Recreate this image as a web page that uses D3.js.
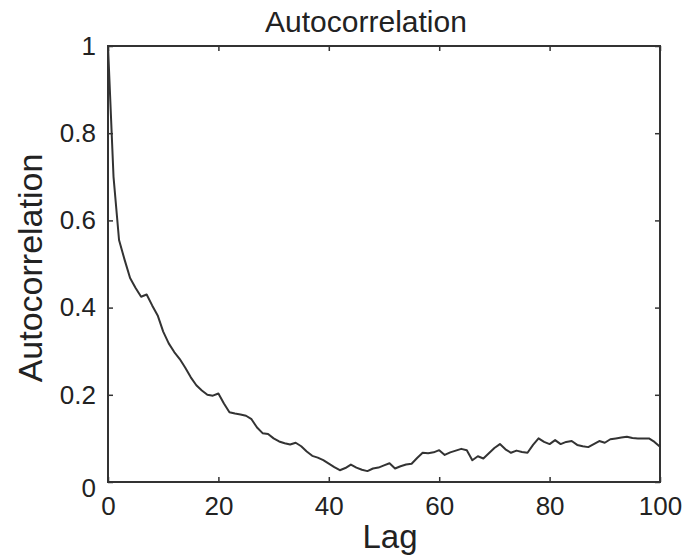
<!DOCTYPE html>
<html>
<head>
<meta charset="utf-8">
<script src="https://cdn.jsdelivr.net/npm/d3@7"></script>
<style>
  html, body { margin: 0; padding: 0; background: #fff; }
  svg { display: block; }
  text { font-family: "Liberation Sans", Arial, Helvetica, sans-serif; fill: #222; }
</style>
</head>
<body>
<svg id="chart" width="693" height="560"></svg>
<script>
// ---- data ----
const lags = d3.range(0, 101);
const autocorr = [
  1.000, 0.700, 0.555, 0.510, 0.468, 0.445, 0.425, 0.430, 0.405, 0.382,
  0.345, 0.318, 0.298, 0.282, 0.262, 0.240, 0.222, 0.210, 0.200, 0.198,
  0.203, 0.180, 0.160, 0.157, 0.155, 0.152, 0.144, 0.125, 0.112, 0.110,
  0.100, 0.093, 0.089, 0.086, 0.090, 0.082, 0.070, 0.060, 0.056, 0.050,
  0.042, 0.034, 0.027, 0.032, 0.040, 0.033, 0.028, 0.025, 0.031, 0.033,
  0.038, 0.043, 0.031, 0.036, 0.040, 0.042, 0.055, 0.067, 0.066, 0.068,
  0.073, 0.062, 0.068, 0.072, 0.076, 0.073, 0.050, 0.059, 0.054, 0.066,
  0.078, 0.087, 0.075, 0.067, 0.072, 0.069, 0.067, 0.085, 0.100, 0.092,
  0.087, 0.096, 0.087, 0.092, 0.094, 0.085, 0.082, 0.080, 0.087, 0.094,
  0.090, 0.098, 0.100, 0.102, 0.104, 0.101, 0.100, 0.100, 0.100, 0.092,
  0.081
];
const xTicks = [0, 20, 40, 60, 80, 100];
const yTicks = [0, 0.2, 0.4, 0.6, 0.8, 1];
const yTickLabels = ["0", "0.2", "0.4", "0.6", "0.8", "1"];
const titleText = "Autocorrelation";
const xLabelText = "Lag";
const yLabelText = "Autocorrelation";

// ---- layout ----
const mLeft = 108, mRight = 660, mTop = 46, mBottom = 482;
const svg = d3.select("#chart");
const x = d3.scaleLinear().domain([0, 100]).range([mLeft, mRight]);
const y = d3.scaleLinear().domain([0, 1]).range([mBottom, mTop]);
const axisColor = "#333";
const tickLen = 5;

// box
svg.append("rect")
  .attr("x", mLeft).attr("y", mTop)
  .attr("width", mRight - mLeft).attr("height", mBottom - mTop)
  .attr("fill", "none").attr("stroke", axisColor).attr("stroke-width", 2);

function styleAxis(g) {
  g.select(".domain").remove();
  g.selectAll(".tick line").attr("stroke", axisColor).attr("stroke-width", 1.5);
}

// bottom axis (inward ticks)
const gx = svg.append("g").attr("transform", `translate(0,${mBottom})`)
  .call(d3.axisBottom(x).tickValues(xTicks).tickSizeInner(-tickLen).tickSizeOuter(0).tickPadding(15).tickFormat(d3.format("d")));
styleAxis(gx);
gx.selectAll(".tick text").attr("font-size", 26).attr("fill", "#222");

// top axis ticks (no labels)
const gxt = svg.append("g").attr("transform", `translate(0,${mTop})`)
  .call(d3.axisTop(x).tickValues(xTicks).tickSizeInner(-tickLen).tickSizeOuter(0).tickFormat(""));
styleAxis(gxt);

// left axis
const gy = svg.append("g").attr("transform", `translate(${mLeft},0)`)
  .call(d3.axisLeft(y).tickValues(yTicks).tickSizeInner(-tickLen).tickSizeOuter(0).tickPadding(12)
    .tickFormat((d, i) => yTickLabels[i]));
styleAxis(gy);
gy.selectAll(".tick text").attr("font-size", 26).attr("fill", "#222");
// MATLAB-style: bottom "0" label sits slightly lower
gy.selectAll(".tick").filter(d => d === 0).select("text").attr("dy", "0.55em");

// right axis ticks
const gyr = svg.append("g").attr("transform", `translate(${mRight},0)`)
  .call(d3.axisRight(y).tickValues(yTicks).tickSizeInner(-tickLen).tickSizeOuter(0).tickFormat(""));
styleAxis(gyr);

// line
const line = d3.line().x((d, i) => x(lags[i])).y(d => y(d));
svg.append("path")
  .datum(autocorr)
  .attr("d", line)
  .attr("fill", "none")
  .attr("stroke", "#333")
  .attr("stroke-width", 2)
  .attr("stroke-linejoin", "round");

// title & labels
svg.append("text").attr("x", 366).attr("y", 32)
  .attr("text-anchor", "middle").attr("font-size", 30).text(titleText);
svg.append("text").attr("x", 390).attr("y", 548)
  .attr("text-anchor", "middle").attr("font-size", 33).text(xLabelText);
svg.append("text")
  .attr("transform", `translate(42,268) rotate(-90)`)
  .attr("text-anchor", "middle").attr("font-size", 34).text(yLabelText);
</script>
</body>
</html>
